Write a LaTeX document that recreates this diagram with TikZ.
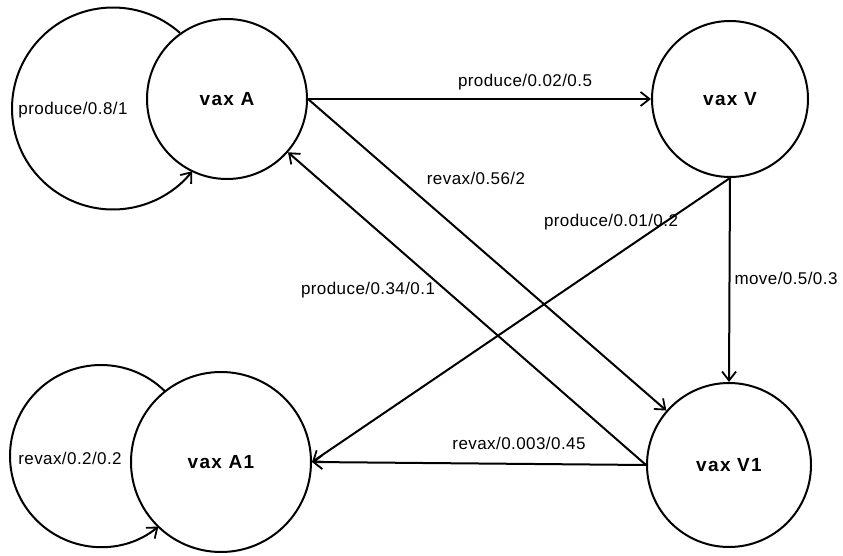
\documentclass[tikz,border=0pt]{standalone}
\usepackage{fontspec}
\setmainfont{Liberation Sans}
\newfontfamily\edgefont[LetterSpace=2.5]{Liberation Sans}
\newfontfamily\statefont[LetterSpace=7]{Liberation Sans}
\usetikzlibrary{arrows.meta}

\tikzset{
  state/.style={circle, draw, line width=2pt, inner sep=0pt,
                font=\statefont\bfseries\fontsize{19}{21}\selectfont},
  arr/.style={line width=2pt,
              -{Straight Barb[length=9pt,width=14pt,line width=1.8pt]}},
  lbl/.style={inner sep=0pt, font=\edgefont\fontsize{17}{19}\selectfont},
}

\begin{document}
\begin{tikzpicture}[x=1pt,y=-1pt]
\useasboundingbox (0,0) rectangle (843,556);

% states
\node[state, minimum size=160pt] (A)  at (227,99)  {vax A};
\node[state, minimum size=156pt] (V)  at (730,99)  {vax V};
\node[state, minimum size=164pt] (V1) at (729,465) {vax V1};
\node[state, minimum size=180pt] (A1) at (221,462) {vax A1};

% centres of the self loops
\coordinate (cA)  at (113,108.5);
\coordinate (cA1) at (101,456);

% self loops
\draw[arr] ([shift={(-48.4:101)}]cA) arc[start angle=-48.4, end angle=-321.6, radius=101];
\draw[arr] ([shift={(-45.2:91)}]cA1) arc[start angle=-45.2, end angle=-309.1, radius=91];

% transitions
\draw[arr] (A.east) -- (V.west);
\draw[arr] (A.east) -- (V1);
\draw[arr] (V1.west) -- (A);
\draw[arr] (V.south) -- (A1.east);
\draw[arr] (V.south) -- (V1.north);
\draw[arr] (V1.west) -- (A1.east);

% transition labels
\node[lbl] (lAA)   at (73,110)  {produce/0.8/1};
\node[lbl] (lA1A1) at (70,458)  {revax/0.2/0.2};
\node[lbl] (lAV)   at (525,82)  {produce/0.02/0.5};
\node[lbl] (lAV1)  at (476,178) {revax/0.56/2};
\node[lbl] (lVA1)  at (611,222) {produce/0.01/0.2};
\node[lbl] (lV1A)  at (368,290) {produce/0.34/0.1};
\node[lbl] (lVV1)  at (786,278) {move/0.5/0.3};
\node[lbl] (lV1A1) at (519,443) {revax/0.003/0.45};
\end{tikzpicture}
\end{document}
